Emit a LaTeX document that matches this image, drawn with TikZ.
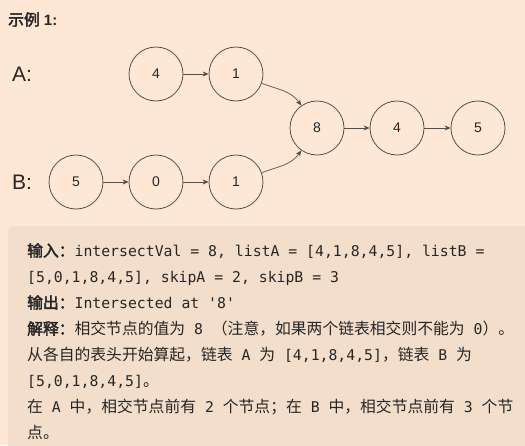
\documentclass[tikz,border=0pt]{standalone}
\usepackage{fontspec}
\usetikzlibrary{arrows.meta}
\setmainfont{Liberation Sans}
\newfontfamily\cjkf{Noto Sans CJK SC}
\newfontfamily\cjkb{Noto Sans CJK SC}[FakeBold=2.5]
\newfontfamily\monof{DejaVu Sans Mono}[Ligatures=TeXOff]
\newcommand\cj[1]{{\cjkf\fontsize{15.8}{18}\selectfont #1}}
\newcommand\cjB[1]{{\cjkb\fontsize{15.8}{18}\selectfont #1}}
\newcommand\mo[1]{{\monof\fontsize{14.8}{18}\selectfont #1}}
\definecolor{bgc}{HTML}{FFE7D5}
\definecolor{boxc}{HTML}{F2DECB}
\definecolor{txt}{HTML}{262626}
\definecolor{circ}{HTML}{505050}
\begin{document}
\begin{tikzpicture}[x=1pt,y=-1pt,
  lnode/.style={circle,draw=circ,line width=0.8pt,minimum size=54pt,inner sep=0pt,
    font=\fontsize{14}{16}\selectfont,text=txt},
  lbl/.style={font=\fontsize{21}{24}\selectfont,text=txt},
  arr/.style={draw=circ,line width=0.7pt,-{Stealth[length=6pt,width=5pt]}},
  line/.style={anchor=base west,inner sep=0pt,text=txt}]
\fill[bgc] (0,0) rectangle (525,445);
\useasboundingbox (0,0) rectangle (525,445);
\fill[boxc,rounded corners=4pt] (8,226) rectangle (540,460);
\node[line] (title) at (8,25.5) {\cjB{示例}{\fontsize{15}{18}\selectfont\bfseries\ 1:}};
\node[lbl] (la) at (22,74) {A:};
\node[lbl] (lb) at (22,182) {B:};
\node[lnode] (a4) at (156,74) {4};
\node[lnode] (a1) at (236,74) {1};
\node[lnode] (c8) at (317,128) {8};
\node[lnode] (c4) at (397,128) {4};
\node[lnode] (c5) at (478,128) {5};
\node[lnode] (b5) at (76,182) {5};
\node[lnode] (b0) at (156,182) {0};
\node[lnode] (b1) at (236,182) {1};
\draw[arr] (a4) -- (a1);
\draw[arr] (b5) -- (b0);
\draw[arr] (b0) -- (b1);
\draw[arr] (c8) -- (c4);
\draw[arr] (c4) -- (c5);
\draw[arr] (a1) to[out=-20,in=125] (c8);
\draw[arr] (b1) to[out=20,in=-125] (c8);
\node[line] (l1) at (27,256.5) {\cjB{输入：}\mo{intersectVal = 8, listA = [4,1,8,4,5], listB =}};
\node[line] (l2) at (27,282.5) {\mo{[5,0,1,8,4,5], skipA = 2, skipB = 3}};
\node[line] (l3) at (27,308.5) {\cjB{输出：}\mo{Intersected at '8'}};
\node[line] (l4) at (27,334.5) {\cjB{解释：}\cj{相交节点的值为}\mo{ 8 }\cj{（注意，如果两个链表相交则不能为}\mo{ 0}\cj{）。}};
\node[line] (l5) at (27,360.5) {\cj{从各自的表头开始算起，链表}\mo{ A }\cj{为}\mo{ [4,1,8,4,5]}\cj{，链表}\mo{ B }\cj{为}};
\node[line] (l6) at (27,386.5) {\mo{[5,0,1,8,4,5]}\cj{。}};
\node[line] (l7) at (27,412.5) {\cj{在}\mo{ A }\cj{中，相交节点前有}\mo{ 2 }\cj{个节点；在}\mo{ B }\cj{中，相交节点前有}\mo{ 3 }\cj{个节}};
\node[line] (l8) at (27,438) {\cj{点。}};
\end{tikzpicture}
\end{document}
